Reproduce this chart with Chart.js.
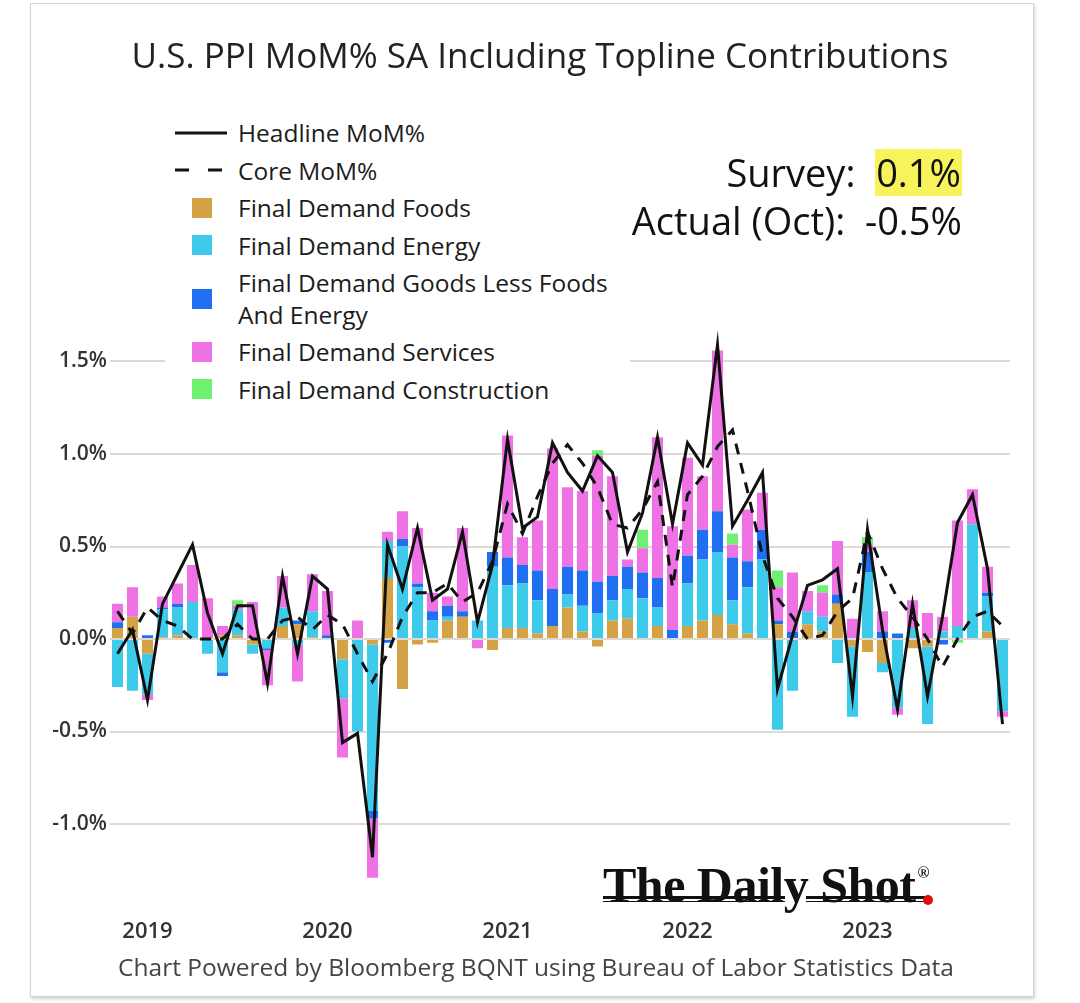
<!DOCTYPE html>
<html>
<head>
<meta charset="utf-8">
<title>U.S. PPI MoM% SA Including Topline Contributions</title>
<script src="https://cdn.jsdelivr.net/npm/chart.js@4.4.0/dist/chart.umd.min.js"></script>
<style>
  html, body { margin: 0; padding: 0; background: #fff; }
  body { width: 1080px; height: 1003px; position: relative; overflow: hidden; font-family: 'Open Sans', sans-serif; color: #222; }
  #frame { position: absolute; left: 30px; top: 3px; width: 1002px; height: 992px; border: 1px solid #d4d4d4; box-shadow: 1px 2px 3px rgba(0,0,0,0.18); }
  #chart { position: absolute; left: 0; top: 0; }
  #title { position: absolute; left: 0; top: 32px; width: 1080px; text-align: center; font-size: 35px; font-weight: 500; line-height: 46px; color: #222; }
  #legend { position: absolute; left: 165px; top: 114px; width: 465px; background: #fff; }
  .row { position: relative; padding-left: 73px; font-size: 24.5px; line-height: 37.5px; color: #1c1c1c; }
  .row.wrap { line-height: 32px; padding-top: 2.5px; padding-bottom: 2.5px; }
  .swatch { position: absolute; left: 27px; top: 50%; width: 20px; height: 20px; margin-top: -10px; }
  .linekey { position: absolute; left: 10px; top: 50%; margin-top: -2px; }
  #survey { position: absolute; right: 118px; top: 148px; text-align: right; font-size: 38px; line-height: 48px; color: #111; }
  .hl { display: inline-block; background: #f7f35a; line-height: 47px; padding: 0 1px; }
  #logo { position: absolute; left: 603px; top: 848px; font-family: 'Liberation Serif', 'Times New Roman', serif; font-weight: bold; font-size: 50px; line-height: 50px; color: #111; letter-spacing: -0.5px; }
  #logo sup { font-size: 16px; vertical-align: 24px; margin-left: 2px; }
  .uline { position: absolute; background: #111; }
  #dot { position: absolute; left: 923px; top: 895px; width: 10px; height: 10px; border-radius: 50%; background: #e01010; }
  #footer { position: absolute; left: 0; top: 952px; width: 1072px; text-align: center; font-size: 24.5px; line-height: 30px; color: #444; }
</style>
</head>
<body>
<div id="frame"></div>
<canvas id="chart" width="1080" height="1003"></canvas>
<div id="title">U.S. PPI MoM% SA Including Topline Contributions</div>
<div id="legend"></div>
<div id="survey">
  <div>Survey:&nbsp; <span class="hl">0.1%</span></div>
  <div>Actual (Oct):&nbsp; -0.5%</div>
</div>
<div id="logo">The Daily Shot<sup>®</sup></div>
<div class="uline" style="left:603px; top:896px; width:182px; height:3px;"></div>
<div class="uline" style="left:806px; top:896px; width:120px; height:3px;"></div>
<div class="uline" style="left:603px; top:901px; width:182px; height:1px;"></div>
<div class="uline" style="left:806px; top:901px; width:120px; height:1px;"></div>
<div id="dot"></div>
<div id="footer">Chart Powered by Bloomberg BQNT using Bureau of Labor Statistics Data</div>

<script>
(function () {
  'use strict';

  // Monthly categories, Nov 2018 - Oct 2023
  const months = [
    '2018-11', '2018-12',
    '2019-01', '2019-02', '2019-03', '2019-04', '2019-05', '2019-06', '2019-07', '2019-08', '2019-09', '2019-10', '2019-11', '2019-12',
    '2020-01', '2020-02', '2020-03', '2020-04', '2020-05', '2020-06', '2020-07', '2020-08', '2020-09', '2020-10', '2020-11', '2020-12',
    '2021-01', '2021-02', '2021-03', '2021-04', '2021-05', '2021-06', '2021-07', '2021-08', '2021-09', '2021-10', '2021-11', '2021-12',
    '2022-01', '2022-02', '2022-03', '2022-04', '2022-05', '2022-06', '2022-07', '2022-08', '2022-09', '2022-10', '2022-11', '2022-12',
    '2023-01', '2023-02', '2023-03', '2023-04', '2023-05', '2023-06', '2023-07', '2023-08', '2023-09', '2023-10'
  ];
  const yearLabels = ['2019', '2020', '2021', '2022', '2023'];
  const yTicks = [-1.0, -0.5, 0, 0.5, 1.0, 1.5];

  // Lines (MoM %)
  const headline = [
    -0.08, 0.05, -0.33, 0.19, 0.35, 0.51, 0.14, -0.08, 0.18, 0.18,
    -0.24, 0.34, -0.08, 0.34, 0.27, -0.56, -0.51, -1.18, 0.51, 0.27,
    0.60, 0.21, 0.27, 0.58, 0.09, 0.40, 1.08, 0.60, 0.66, 1.06,
    0.90, 0.80, 0.99, 0.90, 0.47, 0.68, 1.09, 0.62, 1.06, 0.94,
    1.59, 0.61, 0.75, 0.90, -0.27, 0.02, 0.29, 0.32, 0.38, -0.31,
    0.59, 0.05, -0.38, 0.19, -0.31, 0.12, 0.63, 0.78, 0.38, -0.46
  ];
  const core = [
    0.15, 0.03, 0.17, 0.10, 0.07, 0.00, 0.00, 0.00, 0.08, 0.00,
    0.00, 0.10, 0.12, 0.05, 0.13, 0.08, -0.08, -0.23, -0.08, 0.12,
    0.25, 0.25, 0.30, 0.20, 0.25, 0.42, 0.73, 0.57, 0.77, 0.95,
    1.05, 0.95, 0.82, 0.62, 0.60, 0.70, 0.85, 0.28, 0.78, 0.88,
    1.04, 1.13, 0.80, 0.45, 0.22, 0.12, 0.00, 0.02, 0.15, 0.22,
    0.58, 0.38, 0.22, 0.12, 0.00, -0.15, 0.00, 0.12, 0.15, 0.07
  ];

  // Contributions (pp)
  const foods = [
    0.06, 0.12, -0.08, 0.01, 0.02, 0.00, 0.00, 0.02, 0.02, -0.03,
    0.00, 0.07, 0.08, 0.01, 0.00, -0.11, 0.00, -0.03, 0.33, -0.27,
    -0.03, -0.02, 0.10, 0.12, 0.00, -0.06, 0.06, 0.06, 0.03, 0.07,
    0.17, 0.04, -0.04, 0.10, 0.11, 0.00, 0.07, 0.00, 0.07, 0.10,
    0.13, 0.08, 0.03, 0.00, 0.08, 0.00, 0.08, 0.04, 0.19, -0.04,
    -0.07, -0.13, 0.00, -0.05, -0.04, 0.00, 0.00, 0.00, 0.04, 0.00
  ];
  const energy = [
    -0.26, -0.28, -0.22, 0.15, 0.15, 0.20, -0.08, -0.18, 0.14, -0.05,
    -0.05, 0.10, -0.03, 0.14, 0.00, -0.21, -0.50, -0.90, 0.20, 0.50,
    0.28, 0.10, 0.02, 0.00, 0.10, 0.39, 0.23, 0.24, 0.18, 0.00,
    0.07, 0.14, 0.14, 0.11, 0.16, 0.22, 0.10, 0.00, 0.23, 0.33,
    0.34, 0.13, 0.25, 0.43, -0.49, -0.28, 0.07, 0.08, -0.13, -0.38,
    0.36, -0.05, -0.37, 0.06, -0.42, 0.04, 0.07, 0.62, 0.19, -0.39
  ];
  const goods = [
    0.03, 0.00, 0.02, 0.01, 0.02, 0.00, 0.00, -0.02, 0.00, 0.00,
    -0.01, 0.00, 0.02, 0.00, 0.02, 0.00, 0.00, -0.04, -0.02, 0.04,
    0.02, 0.05, 0.06, 0.03, 0.00, 0.08, 0.15, 0.10, 0.16, 0.20,
    0.15, 0.19, 0.17, 0.13, 0.12, 0.14, 0.16, 0.05, 0.15, 0.16,
    0.22, 0.23, 0.14, 0.16, 0.02, 0.04, 0.00, 0.00, 0.05, 0.00,
    0.11, 0.04, 0.03, 0.00, 0.00, -0.03, 0.00, 0.00, 0.02, 0.00
  ];
  const services = [
    0.10, 0.16, -0.03, 0.06, 0.11, 0.20, 0.22, 0.05, 0.02, 0.20,
    -0.19, 0.17, -0.20, 0.20, 0.24, -0.32, 0.10, -0.32, 0.05, 0.15,
    0.30, 0.10, 0.05, 0.45, -0.05, 0.00, 0.66, 0.15, 0.27, 0.76,
    0.43, 0.43, 0.68, 0.54, 0.04, 0.13, 0.76, 0.56, 0.53, 0.29,
    0.87, 0.07, 0.28, 0.20, 0.18, 0.32, 0.11, 0.13, 0.29, 0.11,
    0.04, 0.11, -0.04, 0.15, 0.14, 0.08, 0.57, 0.19, 0.14, -0.03
  ];
  const construction = [
    0, 0, 0, 0, 0, 0, 0, 0, 0.03, 0,
    0, 0, 0, 0, 0, 0, 0, 0, 0, 0,
    0, 0, 0, 0, 0, 0, 0, 0, 0, 0,
    0, 0, 0.03, 0, 0, 0.10, 0, 0, 0, 0,
    0, 0.06, 0, 0, 0.09, 0, 0, 0.04, 0, 0,
    0.04, 0, 0, 0, 0, 0, -0.02, 0, 0, 0
  ];

  const lineNames = ['Headline MoM%', 'Core MoM%'];
  const barNames = [
    'Final Demand Foods',
    'Final Demand Energy',
    'Final Demand Goods Less Foods And Energy',
    'Final Demand Services',
    'Final Demand Construction'
  ];
  const barColors = ['#d4a247', '#3ecbeb', '#1f6ff0', '#ee72e4', '#70f070'];
  const barData = [foods, energy, goods, services, construction];

  const FONT = "'Open Sans', sans-serif";

  // HTML legend
  const legend = document.getElementById('legend');
  let html = '';
  html += '<div class="row"><svg class="linekey" width="52" height="4"><line x1="0" y1="2" x2="52" y2="2" stroke="#111" stroke-width="3"/></svg>' + lineNames[0] + '</div>';
  html += '<div class="row"><svg class="linekey" width="52" height="4"><line x1="0" y1="2" x2="52" y2="2" stroke="#111" stroke-width="3" stroke-dasharray="14 19"/></svg>' + lineNames[1] + '</div>';
  barNames.forEach(function (name, i) {
    const wrap = name.length > 30 ? ' wrap' : '';
    html += '<div class="row' + wrap + '"><span class="swatch" style="background:' + barColors[i] + '"></span>' + name + '</div>';
  });
  legend.innerHTML = html;

  const datasets = [
    {
      type: 'line', label: lineNames[0], data: headline, stack: 'headline', order: 0,
      borderColor: '#111', borderWidth: 3, pointRadius: 0, fill: false, tension: 0
    },
    {
      type: 'line', label: lineNames[1], data: core, stack: 'core', order: 0,
      borderColor: '#111', borderWidth: 3, borderDash: [11, 9], pointRadius: 0, fill: false, tension: 0
    }
  ];
  barData.forEach(function (d, i) {
    datasets.push({
      type: 'bar', label: barNames[i], data: d, stack: 'contrib', order: 1,
      backgroundColor: barColors[i], borderWidth: 0,
      barPercentage: 0.74, categoryPercentage: 1.0
    });
  });

  new Chart(document.getElementById('chart'), {
    type: 'bar',
    data: { labels: months, datasets: datasets },
    options: {
      responsive: false,
      maintainAspectRatio: false,
      animation: false,
      layout: { padding: { top: 296.75, right: 70, bottom: 45.75, left: 0 } },
      plugins: { legend: { display: false }, tooltip: { enabled: false } },
      scales: {
        x: {
          stacked: true,
          grid: { display: false, drawTicks: false },
          border: { display: false },
          afterFit: function (s) { s.height = 50; },
          ticks: {
            autoSkip: false, maxRotation: 0, minRotation: 0, padding: 11,
            color: '#333', font: { family: FONT, size: 22, weight: '600' },
            callback: function (v, i) {
              const m = months[i];
              const y = m.slice(0, 4);
              return (m.slice(5) === '01' && yearLabels.indexOf(y) >= 0) ? y : '';
            }
          }
        },
        y: {
          stacked: true,
          min: -1.45,
          max: 1.85,
          afterBuildTicks: function (s) { s.ticks = yTicks.map(function (v) { return { value: v }; }); },
          afterFit: function (s) { s.width = 110; },
          grid: { color: '#dedad2', lineWidth: 2, drawTicks: false },
          border: { display: false },
          ticks: {
            padding: 3, color: '#333', font: { family: FONT, size: 21, weight: '600' },
            callback: function (v) { return v.toFixed(1) + '%'; }
          }
        }
      }
    }
  });
})();
</script>
</body>
</html>
